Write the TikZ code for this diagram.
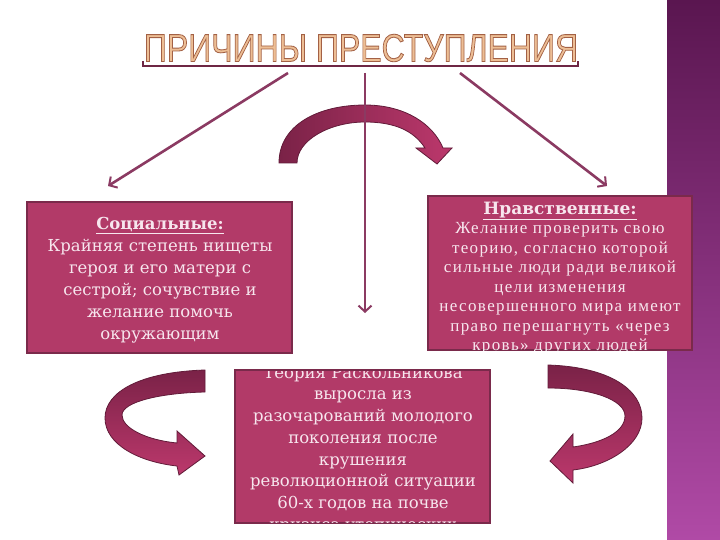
\documentclass[tikz,border=0pt]{standalone}
\usepackage{fontspec}
\setmainfont{DejaVu Serif}
\newfontfamily\titlefont{Liberation Sans}
\newfontfamily\thinfont[LetterSpace=8]{Liberation Serif}
\usetikzlibrary{arrows.meta}
\definecolor{boxfill}{HTML}{B23A68}
\definecolor{boxedge}{HTML}{7A2A4B}
\definecolor{boxtext}{HTML}{F7E6EE}
\definecolor{linecol}{HTML}{8B3A62}
\definecolor{arrdark}{HTML}{7A2247}
\definecolor{arrlight}{HTML}{BC386C}
\definecolor{stripTop}{HTML}{5A1650}
\definecolor{stripBot}{HTML}{B04AA6}
\definecolor{titlegold}{HTML}{EDBE95}
\newcommand{\outlined}[1]{\special{pdf:literal direct 0.7 w 2 Tr 0.64 0.38 0.27 RG}#1\special{pdf:literal direct 0 Tr}}
\tikzset{
  boxstyle/.style={fill=boxfill, draw=boxedge, line width=2pt},
  boxtextstyle/.style={text=boxtext, align=center, inner sep=0pt},
  conn/.style={draw=linecol, line width=2.6pt, -{Straight Barb[length=6pt,width=13pt,line width=2pt]}},
  bigarrow/.style={draw=arrdark!80!black, line width=0.8pt}
}
\begin{document}
\begin{tikzpicture}[x=1pt,y=-1pt]
\useasboundingbox (0,0) rectangle (720,540);
\fill[white] (0,0) rectangle (720,540);
\shade[top color=stripTop, bottom color=stripBot] (667,0) rectangle (720,540);

% title
\node[font=\titlefont\fontsize{32}{36}\selectfont, text=titlegold, inner sep=0pt] (title) at (361,48) {\scalebox{1}[1.22]{\outlined{ПРИЧИНЫ ПРЕСТУПЛЕНИЯ}}};
\draw[boxedge!90!black, line width=1.2pt] (143,61) -- (143,66) -- (578,66) -- (578,61);

% connector end points
\coordinate (tl) at (288,73);
\coordinate (sl) at (108,186);
\coordinate (tc) at (365,73);
\coordinate (sc) at (365,313);
\coordinate (tr) at (460,73);
\coordinate (sr) at (607,186);

% top curved arrow
\shade[left color=arrdark, right color=arrlight, bigarrow]
  (279,163) .. controls (279,125) and (318,105) .. (365,105)
  .. controls (405,105) and (433,124) .. (443,148)
  -- (452,148) -- (437,164) -- (416,148) -- (425,148)
  .. controls (414,131) and (395,122) .. (365,122)
  .. controls (330,122) and (297,140) .. (297,163) -- cycle;

\draw[conn] (tl) -- (sl);
\draw[conn] (tc) -- (sc);
\draw[conn] (tr) -- (sr);

% social box
\draw[boxstyle] (27,202) rectangle (292,353);
\node[boxtextstyle, font=\fontsize{16.5}{22}\selectfont] (soc) at (160,280)
  {\textbf{\underline{Социальные:}}\\Крайняя степень нищеты\\героя и его матери с\\сестрой; сочувствие и\\желание помочь\\окружающим};

% moral box
\draw[boxstyle] (428,196) rectangle (692,350);
\begin{scope}
\clip (428,196) rectangle (692,350);
\node[boxtextstyle, font=\thinfont\fontsize{17}{19.5}\selectfont] (mor) at (560,278)
  {\fontspec{DejaVu Serif}\fontsize{17}{19.5}\selectfont\textbf{\underline{Нравственные:}}\\Желание проверить свою\\теорию, согласно которой\\сильные люди ради великой\\цели изменения\\несовершенного мира имеют\\право перешагнуть «через\\кровь» других людей};
\end{scope}

% history box
\draw[boxstyle] (235,370) rectangle (490,523);
\begin{scope}
\clip (235,371) rectangle (490,522);
\node[boxtextstyle, font=\fontsize{16.5}{21.7}\selectfont] (hist) at (363,450)
  {Теория Раскольникова\\выросла из\\разочарований молодого\\поколения после\\крушения\\революционной ситуации\\60-х годов на почве\\кризиса утопических};
\end{scope}

% bottom-left curved arrow
\shade[top color=arrdark, bottom color=arrlight, bigarrow]
  (205,370) .. controls (140,372) and (105,392) .. (105,418)
  .. controls (105,445) and (140,462) .. (177,466)
  -- (179,475) -- (205,456) -- (177,431) -- (177,443)
  .. controls (146,440) and (122,428) .. (122,415)
  .. controls (122,402) and (160,393) .. (205,392) -- cycle;

% bottom-right curved arrow
\shade[top color=arrdark, bottom color=arrlight, bigarrow]
  (548,365) .. controls (610,367) and (642,390) .. (642,418)
  .. controls (642,445) and (608,466) .. (573,470)
  -- (573,483) -- (550,461) -- (573,434) -- (573,447)
  .. controls (602,443) and (625,432) .. (625,416)
  .. controls (625,400) and (592,388) .. (548,388) -- cycle;
\end{tikzpicture}
\end{document}
